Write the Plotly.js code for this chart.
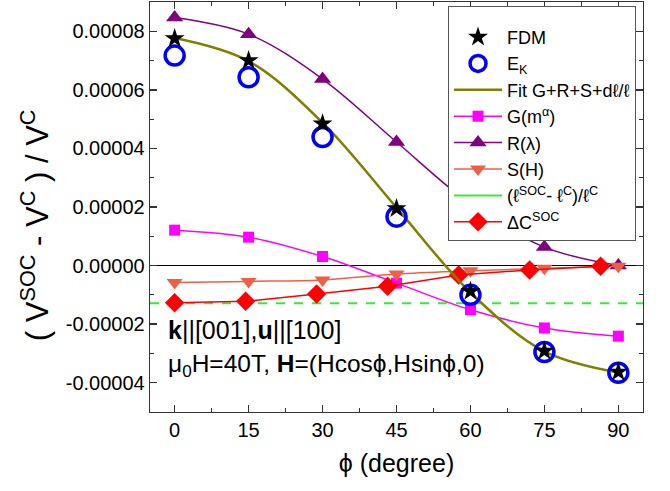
<!DOCTYPE html>
<html><head><meta charset="utf-8">
<script src="https://cdn.plot.ly/plotly-3.0.1.min.js"></script>
<style>html,body{margin:0;padding:0;background:#fff}#chart{width:670px;height:491px}</style>
</head><body><div id="chart"></div>
<script>
// ---- data ----
const angles = [0, 15, 30, 45, 60, 75, 90];
const fdm = [7.75e-5, 7.0e-5, 4.84e-5, 1.95e-5, -0.88e-5, -2.92e-5, -3.63e-5];
const ek  = [7.17e-5, 6.43e-5, 4.39e-5, 1.67e-5, -1.0e-5, -2.95e-5, -3.66e-5];
const fitVals = [7.77e-5, 6.98e-5, 4.88e-5, 1.98e-5, -0.92e-5, -2.93e-5, -3.65e-5];
const gVals = [1.21e-5, 0.97e-5, 0.31e-5, -0.6e-5, -1.51e-5, -2.13e-5, -2.41e-5];
const rVals = [8.47e-5, 7.9e-5, 6.37e-5, 4.22e-5, 2.1e-5, 0.63e-5, 0.0];
const sVals = [-0.58e-5, -0.54e-5, -0.49e-5, -0.29e-5, -0.18e-5, -0.09e-5, -0.02e-5];
const dcAngles = [0, 14.4, 28.8, 43.2, 57.6, 72, 86.4];
const dcVals = [-1.27e-5, -1.22e-5, -0.97e-5, -0.71e-5, -0.32e-5, -0.15e-5, -0.02e-5];
const lenRatio = -1.29e-5;            // (l^SOC - l^C)/l^C, constant
const xRange = [-5, 95];
const yRange = [-5e-5, 9e-5];
const yTickVals = [-4e-5, -2e-5, 0, 2e-5, 4e-5, 6e-5, 8e-5];
const yTickText = ['-0.00004', '-0.00002', '0.00000', '0.00002', '0.00004', '0.00006', '0.00008'];

const FONT = 'Liberation Sans, Arial, sans-serif';

const traces = [
  { x: xRange, y: [lenRatio, lenRatio], mode: 'lines', showlegend: false,
    line: { color: '#33ee33', width: 2, dash: 'dash' }, hoverinfo: 'skip' },
  { x: [null], y: [null], mode: 'lines', name: '(ℓ<sup>SOC</sup>- ℓ<sup>C</sup>)/ℓ<sup>C</sup>',
    line: { color: '#33ee33', width: 2 }, legendrank: 7 },
  { x: angles, y: gVals, mode: 'lines+markers', name: 'G(m<sup>α</sup>)', legendrank: 4,
    line: { color: '#ff00ff', width: 1.5, shape: 'spline' },
    marker: { symbol: 'square', size: 11, color: '#ff00ff' } },
  { x: angles, y: rVals, mode: 'lines+markers', name: 'R(λ)', legendrank: 5,
    line: { color: '#800080', width: 1.5, shape: 'spline' },
    marker: { symbol: 'triangle-up', size: 15, color: '#800080' } },
  { x: angles, y: sVals, mode: 'lines+markers', name: 'S(H)', legendrank: 6,
    line: { color: '#ef5f45', width: 1.5, shape: 'spline' },
    marker: { symbol: 'triangle-down', size: 14, color: '#ef5f45' } },
  { x: dcAngles, y: dcVals, mode: 'lines+markers', name: 'ΔC<sup>SOC</sup>', legendrank: 8,
    line: { color: '#ff0000', width: 1.5 },
    marker: { symbol: 'diamond', size: 15, color: '#ff0000' } },
  { x: angles, y: fitVals, mode: 'lines', name: 'Fit G+R+S+dℓ/ℓ', legendrank: 3,
    line: { color: '#808000', width: 2.5, shape: 'spline' } },
  { x: angles, y: ek, mode: 'markers', name: 'E<sub>K</sub>', legendrank: 2,
    marker: { symbol: 'circle-open', size: 19, color: '#0000ff', line: { width: 3.5, color: '#0000ff' } } },
  { x: angles, y: fdm, mode: 'markers', name: 'FDM', legendrank: 1,
    marker: { symbol: 'star', size: 15, color: '#000000' } }
];

const axisCommon = {
  showline: true, linecolor: '#333', linewidth: 1.3, mirror: 'ticks',
  ticks: 'inside', ticklen: 7, tickwidth: 1.3, tickcolor: '#333',
  showgrid: false, tickfont: { size: 20, color: '#000', family: FONT }
};

const layout = {
  width: 670, height: 491,
  margin: { l: 150, r: 27, t: 2, b: 79 },
  paper_bgcolor: '#fff', plot_bgcolor: '#fff',
  font: { family: FONT, color: '#000' },
  showlegend: true,
  xaxis: Object.assign({}, axisCommon, {
    range: xRange, tick0: 0, dtick: 15, zeroline: false,
    minor: { ticks: 'inside', ticklen: 4, tickwidth: 1.2, tickcolor: '#333', dtick: 7.5, tick0: 0 },
    title: { text: 'ϕ (degree)', font: { size: 25, family: FONT }, standoff: 14 }
  }),
  yaxis: Object.assign({}, axisCommon, {
    range: yRange, tickmode: 'array', tickvals: yTickVals, ticktext: yTickText,
    zeroline: true, zerolinecolor: '#000', zerolinewidth: 1,
    minor: { tickmode: 'linear', ticks: 'inside', ticklen: 4, tickwidth: 1.2, tickcolor: '#333', dtick: 1e-5, tick0: 0 }
  }),
  legend: {
    x: 0.6045, y: 0.99, xanchor: 'left', yanchor: 'top',
    bgcolor: '#fff', bordercolor: '#555', borderwidth: 1,
    font: { size: 18, family: FONT, color: '#000' }, itemwidth: 48, traceorder: 'normal',
    title: { text: ' ', font: { size: 9 } }
  },
  annotations: [
    { xref: 'paper', yref: 'paper', x: -0.233, y: 0.456, xanchor: 'center', yanchor: 'middle',
      textangle: -90, showarrow: false,
      text: '( V<sup>SOC</sup> - V<sup>C</sup> ) / V<sup>C</sup>', font: { size: 31, family: FONT } },
    { xref: 'paper', yref: 'paper', x: 0.032, y: 0.2, xanchor: 'left', yanchor: 'middle', showarrow: false,
      text: '<b>k</b>||[001],<b>u</b>||[100]', font: { size: 25, family: FONT } },
    { xref: 'paper', yref: 'paper', x: 0.032, y: 0.113, xanchor: 'left', yanchor: 'middle', showarrow: false,
      text: 'μ<sub>0</sub>H=40T, <b>H</b>=(Hcosϕ,Hsinϕ,0)', font: { size: 24.5, family: FONT } }
  ]
};

Plotly.newPlot('chart', traces, layout, { displayModeBar: false, staticPlot: true });
</script>
</body></html>
